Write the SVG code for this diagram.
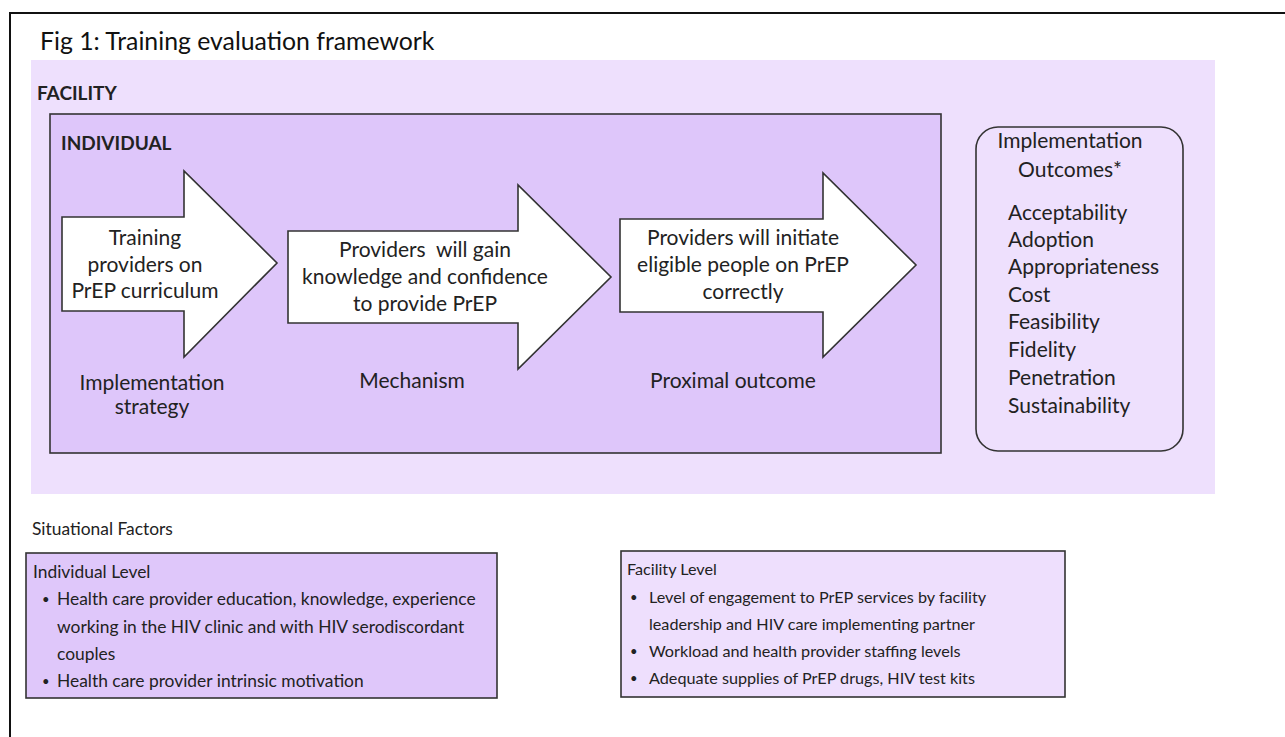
<svg xmlns="http://www.w3.org/2000/svg" width="1285" height="737" viewBox="0 0 1285 737">
  <style>
    text { font-family: Lato, "Open Sans", "Liberation Sans", sans-serif; fill: #222; }
    .t { font-size: 21px; }
    .s { font-size: 17.4px; }
    .f { font-size: 16.2px; }
    .c { text-anchor: middle; }
    .b { font-weight: bold; font-size: 19px; }
    .title { font-size: 24.8px; fill: #111; }
    .dot { font-size: 13px; }
    .arrow { fill: #ffffff; stroke: #333; stroke-width: 1.6; stroke-linejoin: miter; }
    .box { stroke: #333; stroke-width: 1.6; }
  </style>

  <rect x="0" y="0" width="1285" height="737" fill="#ffffff"/>
  <!-- outer frame -->
  <path d="M10,737 V13 H1285" fill="none" stroke="#111" stroke-width="2"/>

  <text class="title" x="40" y="50">Fig 1: Training evaluation framework</text>

  <!-- facility level region -->
  <g id="facility">
    <rect x="31" y="60" width="1184" height="434" fill="#EEE0FD"/>
    <text class="b" x="37" y="100">FACILITY</text>
  </g>

  <!-- individual level region -->
  <g id="individual">
    <rect class="box" x="50" y="114" width="891" height="339" fill="#DEC6FA"/>
    <text class="b" x="61" y="150">INDIVIDUAL</text>
  </g>

  <g id="connectors">
    <!-- block arrows for the causal chain -->
    <polygon class="arrow" points="62,217 184,217 184,171 277,263 184,357 184,311 62,311"/>
    <polygon class="arrow" points="288,231 518,231 518,185 611,277 518,369 518,323 288,323"/>
    <polygon class="arrow" points="620,219 823,219 823,173 916,265 823,357 823,312 620,312"/>
  </g>

  <g id="strategy">
    <text class="t c" x="145" y="245">Training</text>
    <text class="t c" x="145" y="272">providers on</text>
    <text class="t c" x="145" y="298">PrEP curriculum</text>
    <text class="t c" x="152" y="390">Implementation</text>
    <text class="t c" x="152" y="414">strategy</text>
  </g>

  <g id="mechanism">
    <text class="t c" x="425" y="257" xml:space="preserve">Providers  will gain</text>
    <text class="t c" x="425" y="284">knowledge and confidence</text>
    <text class="t c" x="425" y="311">to provide PrEP</text>
    <text class="t c" x="412" y="388">Mechanism</text>
  </g>

  <g id="proximal-outcome">
    <text class="t c" x="743" y="245">Providers will initiate</text>
    <text class="t c" x="743" y="272">eligible people on PrEP</text>
    <text class="t c" x="743" y="299">correctly</text>
    <text class="t c" x="733" y="388">Proximal outcome</text>
  </g>

  <g id="implementation-outcomes">
    <rect class="box" x="976" y="127" width="207" height="324" rx="22" ry="22" fill="none"/>
    <text class="t c" x="1070" y="148">Implementation</text>
    <text class="t c" x="1070" y="177">Outcomes*</text>
    <text class="t" x="1008" y="220">Acceptability</text>
    <text class="t" x="1008" y="247">Adoption</text>
    <text class="t" x="1008" y="274">Appropriateness</text>
    <text class="t" x="1008" y="302">Cost</text>
    <text class="t" x="1008" y="329">Feasibility</text>
    <text class="t" x="1008" y="357">Fidelity</text>
    <text class="t" x="1008" y="385">Penetration</text>
    <text class="t" x="1008" y="413">Sustainability</text>
  </g>

  <text class="s" x="32" y="535">Situational Factors</text>

  <g id="individual-level">
    <rect class="box" x="26" y="553" width="471" height="145" fill="#DFC7FA"/>
    <text class="s" x="33" y="578">Individual Level</text>
    <text class="dot" x="42" y="604">•</text>
    <text class="s" x="57" y="605">Health care provider education, knowledge, experience</text>
    <text class="s" x="57" y="633">working in the HIV clinic and with HIV serodiscordant</text>
    <text class="s" x="57" y="660">couples</text>
    <text class="dot" x="42" y="686">•</text>
    <text class="s" x="57" y="687">Health care provider intrinsic motivation</text>
  </g>

  <g id="facility-level">
    <rect class="box" x="621" y="551" width="444" height="146" fill="#EEDFFD"/>
    <text class="f" x="627" y="575">Facility Level</text>
    <text class="dot" x="630" y="602">•</text>
    <text class="f" x="649" y="603">Level of engagement to PrEP services by facility</text>
    <text class="f" x="649" y="630">leadership and HIV care implementing partner</text>
    <text class="dot" x="630" y="656">•</text>
    <text class="f" x="649" y="657">Workload and health provider staffing levels</text>
    <text class="dot" x="630" y="683">•</text>
    <text class="f" x="649" y="684">Adequate supplies of PrEP drugs, HIV test kits</text>
  </g>
</svg>
